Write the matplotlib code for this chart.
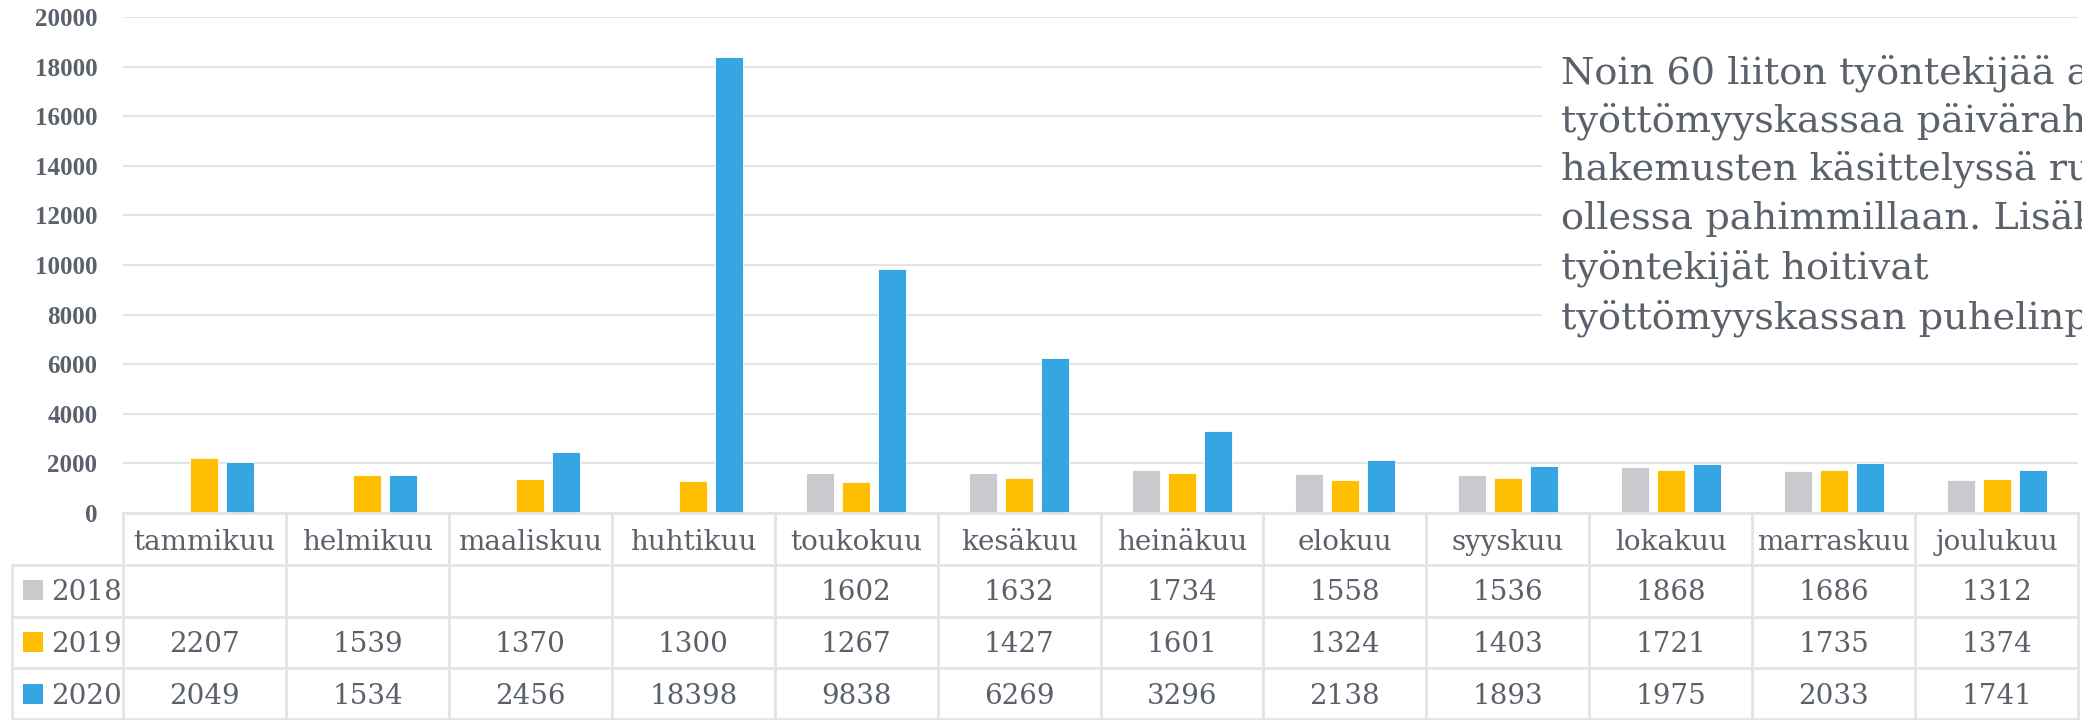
import matplotlib
matplotlib.use("Agg")
import matplotlib.pyplot as plt
from matplotlib.lines import Line2D
from matplotlib.patches import Rectangle
from matplotlib.transforms import blended_transform_factory
import numpy as np

months = ["tammikuu", "helmikuu", "maaliskuu", "huhtikuu", "toukokuu", "kesäkuu",
          "heinäkuu", "elokuu", "syyskuu", "lokakuu", "marraskuu", "joulukuu"]
years = ["2018", "2019", "2020"]
v2018 = [None, None, None, None, 1602, 1632, 1734, 1558, 1536, 1868, 1686, 1312]
v2019 = [2207, 1539, 1370, 1300, 1267, 1427, 1601, 1324, 1403, 1721, 1735, 1374]
v2020 = [2049, 1534, 2456, 18398, 9838, 6269, 3296, 2138, 1893, 1975, 2033, 1741]
colors = ["#C9CACE", "#FFBE00", "#36A6E2"]

note_lines = [
    "Noin 60 liiton työntekijää avusti",
    "työttömyyskassaa päiväraha-",
    "hakemusten käsittelyssä ruuhkan",
    "ollessa pahimmillaan. Lisäksi liiton",
    "työntekijät hoitivat",
    "työttömyyskassan puhelinpalvelua.",
]

W, H = 2082, 720
TXT = "#5B616B"
GRID = "#E4E4E4"
FONT = "DejaVu Serif"


def fx(px):
    return px / W


def fy(py):
    return 1 - py / H


fig = plt.figure(figsize=(W / 100, H / 100), dpi=100)
left, right, top, base = 123, 2078, 17, 513
ax = fig.add_axes([fx(left), fy(base), fx(right - left), (base - top) / H])

n = len(months)
x = np.arange(n)
width = 28 / 163
step = 36 / 163
series = [v2018, v2019, v2020]
for k, vals in enumerate(series):
    ys = np.array([np.nan if v is None else v for v in vals], dtype=float)
    ax.bar(x + (k - 1) * step, ys, width, color=colors[k],
           edgecolor="white", linewidth=0.6, zorder=3)

ax.set_xlim(-0.5, n - 0.5)
ax.set_ylim(0, 20000)
ax.set_yticks(np.arange(0, 20001, 2000))
ax.set_xticks([])
ax.grid(axis="y", color=GRID, linewidth=1.6, zorder=0)
ax.tick_params(axis="y", length=0, pad=18.5, labelcolor=TXT)
for lab in ax.get_yticklabels():
    lab.set_fontfamily("Liberation Serif")
    lab.set_fontweight("bold")
    lab.set_fontsize(18)
for s in ax.spines.values():
    s.set_visible(False)

# data table under the plot
tr = blended_transform_factory(ax.transData, fig.transFigure)
fig.add_artist(Line2D([-0.5, n - 0.5], [fy(513), fy(513)],
                      color=GRID, linewidth=2, transform=tr))
for yy in [565, 617, 668, 719]:
    fig.add_artist(Line2D([fx(12), fx(right)], [fy(yy), fy(yy)],
                          color=GRID, linewidth=2, transform=fig.transFigure))
for j in range(n + 1):
    fig.add_artist(Line2D([j - 0.5, j - 0.5], [fy(513), fy(720)],
                          color=GRID, linewidth=2, transform=tr))
fig.add_artist(Line2D([fx(12), fx(12)], [fy(565), fy(720)],
                      color=GRID, linewidth=2, transform=fig.transFigure))

for i, m in enumerate(months):
    fig.text(i, fy(550), m, transform=tr, ha="center", va="baseline",
             fontsize=20, color=TXT, family=FONT)

baselines = [600, 652, 704]
for k, vals in enumerate(series):
    yb = baselines[k]
    fig.add_artist(Rectangle((fx(23), fy(yb)), fx(20), 20 / H,
                             facecolor=colors[k], edgecolor="none",
                             transform=fig.transFigure))
    fig.text(fx(51), fy(yb), years[k], ha="left", va="baseline",
             fontsize=20, color=TXT, family=FONT)
    for i, v in enumerate(vals):
        if v is not None:
            fig.text(i, fy(yb), str(v), transform=tr, ha="center",
                     va="baseline", fontsize=20, color=TXT, family=FONT)

# note box on the right
fig.add_artist(Rectangle((fx(1542), fy(345)), fx(W - 1542), 300 / H,
                         facecolor="white", edgecolor="none",
                         transform=fig.transFigure, zorder=2))
note_base = [84, 131, 179, 229, 279, 329]
for line, yb in zip(note_lines, note_base):
    fig.text(fx(1561), fy(yb), line, ha="left", va="baseline",
             fontsize=27.5, color=TXT, family=FONT, zorder=3)

fig.savefig("out.png", dpi=100)
